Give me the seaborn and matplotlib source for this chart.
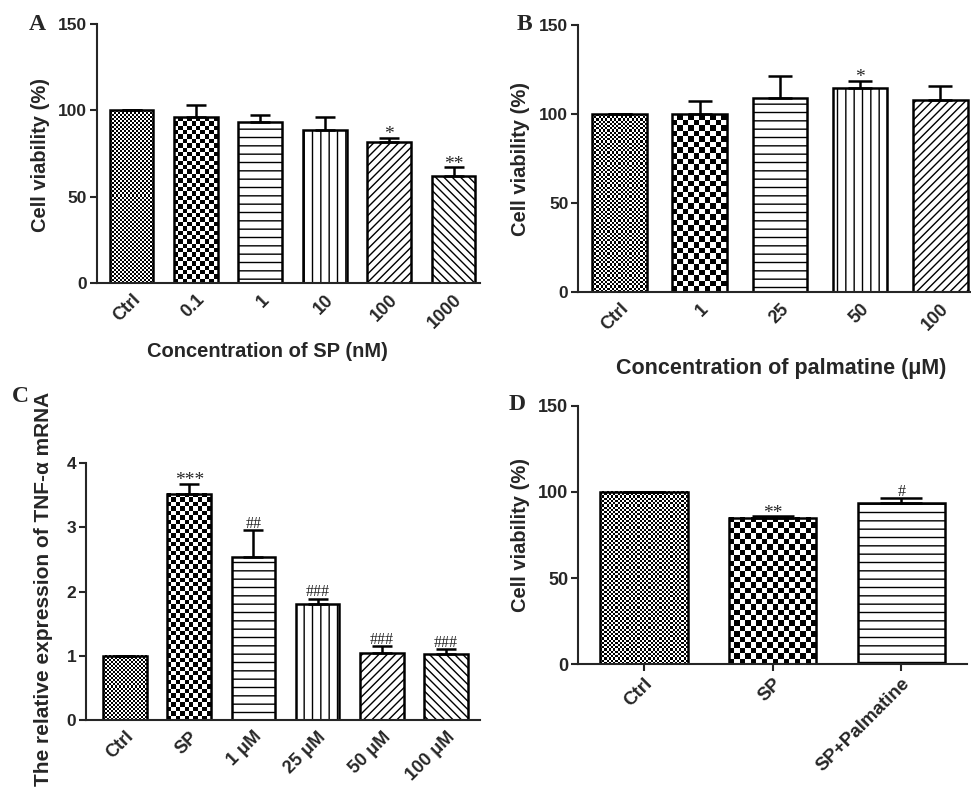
import numpy as np
import seaborn as sns
import matplotlib.pyplot as plt

# Panel A - SP concentration
a_labels = ["Ctrl", "0.1", "1", "10", "100", "1000"]
a_mean = [100, 95.9, 93.2, 88.6, 81.4, 61.8]
a_err = [0, 7.0, 3.9, 7.5, 2.7, 5.3]
a_sig = ["", "", "", "", "*", "**"]

# Panel B - palmatine concentration
b_labels = ["Ctrl", "1", "25", "50", "100"]
b_mean = [100, 99.9, 109.0, 114.8, 107.9]
b_err = [0, 7.4, 12.2, 3.8, 7.7]
b_sig = ["", "", "", "*", ""]

# Panel C - TNF-alpha mRNA
c_labels = ["Ctrl", "SP", "1 \u03bcM", "25 \u03bcM", "50 \u03bcM", "100 \u03bcM"]
c_mean = [1.0, 3.52, 2.53, 1.80, 1.04, 1.03]
c_err = [0, 0.16, 0.43, 0.09, 0.11, 0.07]
c_sig = ["", "***", "##", "###", "###", "###"]

# Panel D - SP + palmatine
d_labels = ["Ctrl", "SP", "SP+Palmatine"]
d_mean = [100, 84.9, 93.6]
d_err = [0, 1.0, 2.9]
d_sig = ["", "**", "#"]

FILLS = [("fine", None), ("coarse", None), (None, "--"), (None, "||"),
         (None, "////"), (None, "\\\\\\\\")]

sns.set_style("ticks")
plt.rcParams["font.family"] = ["Liberation Sans", "DejaVu Sans"]
plt.rcParams["font.weight"] = "bold"
plt.rcParams["axes.labelweight"] = "bold"
plt.rcParams["hatch.linewidth"] = 1.0
plt.rcParams["hatch.color"] = "black"

fig = plt.figure(figsize=(9.71, 7.92), dpi=100)


def add_checker(ax, patch, cell):
    # checkerboard fill covering exactly the bar
    trans = ax.transData
    x0, y0 = patch.get_x(), patch.get_y()
    w, h = patch.get_width(), patch.get_height()
    px0, py0 = trans.transform((x0, y0))
    px1, py1 = trans.transform((x0 + w, y0 + h))
    ncol = max(1, int(round((px1 - px0) / cell)))
    nrow = max(1, int(round((py1 - py0) / cell)))
    arr = np.add.outer(np.arange(nrow), np.arange(ncol)) % 2
    ax.imshow(arr, cmap="gray", vmin=0, vmax=1,
              extent=[x0, x0 + w, y0, y0 + h], origin="lower",
              interpolation="nearest", aspect="auto", zorder=0.5)


def panel(rect, labels, mean, err, sig, ylim, yticks, xlim, ylabel,
          ylab_xy, fine=2.0, coarse=4.4, capsize=7, tsize=12.5,
          xticks=False):
    ax = fig.add_axes(rect)
    sns.barplot(x=labels, y=mean, order=labels, color="white",
                edgecolor="black", linewidth=1.8, width=0.68,
                errorbar=None, ax=ax)
    ax.set_xlim(*xlim)
    ax.set_ylim(*ylim)
    for i, p in enumerate(ax.patches):
        kind, hatch = FILLS[i]
        p.set_zorder(2)
        if kind is not None:
            p.set_facecolor("none")
        if hatch:
            p.set_hatch(hatch)
        if kind == "fine":
            add_checker(ax, p, fine)
        elif kind == "coarse":
            add_checker(ax, p, coarse)
    ax.set_xlim(*xlim)
    ax.set_ylim(*ylim)
    x = np.arange(len(labels))
    ax.errorbar(x, mean, yerr=[np.zeros(len(err)), err], fmt="none",
                ecolor="black", elinewidth=1.8, capsize=capsize,
                capthick=1.8, zorder=3)
    for i, s in enumerate(sig):
        if s:
            star = s.startswith("*")
            ax.annotate(s, (i, mean[i] + err[i]),
                        xytext=(0, -1 if star else 1.5),
                        textcoords="offset points", ha="center",
                        va="baseline", fontsize=14 if star else 11.5,
                        fontweight="normal", family="Liberation Serif")
    sns.despine(ax=ax)
    ax.spines["left"].set_linewidth(1.5)
    ax.spines["bottom"].set_linewidth(1.5)
    ax.set_yticks(yticks)
    ax.tick_params(axis="y", length=5, width=1.5, labelsize=tsize, pad=2)
    ax.tick_params(axis="x", length=5 if xticks else 0, width=1.5,
                   labelsize=tsize + 0.5, pad=3 if xticks else 6)
    plt.setp(ax.get_yticklabels(), fontweight="bold")
    plt.setp(ax.get_xticklabels(), rotation=45, ha="right",
             rotation_mode="anchor", fontweight="bold")
    ax.set_ylabel(ylabel, fontsize=14.5, fontweight="bold")
    ax.yaxis.set_label_coords(*ylab_xy)
    return ax


ax_a = panel([0.0999, 0.6427, 0.3944, 0.327], a_labels, a_mean, a_err, a_sig,
             (0, 150), [0, 50, 100, 150], (-0.536, 5.41),
             "Cell viability (%)", (-0.123, 0.494))
ax_a.set_xlabel("Concentration of SP (nM)", fontsize=14.5, fontweight="bold")
ax_a.xaxis.set_label_coords(0.444, -0.228)

ax_b = panel([0.5953, 0.6313, 0.4037, 0.3371], b_labels, b_mean, b_err, b_sig,
             (0, 150), [0, 50, 100, 150], (-0.517, 4.37),
             "Cell viability (%)", (-0.122, 0.50), fine=2.2, coarse=5.5,
             capsize=8.5)
ax_b.set_xlabel("Concentration of palmatine (\u03bcM)", fontsize=15.5,
                fontweight="bold")
ax_b.xaxis.set_label_coords(0.518, -0.247)

ax_c = panel([0.0886, 0.0909, 0.4058, 0.3245], c_labels, c_mean, c_err, c_sig,
             (0, 4), [0, 1, 2, 3, 4], (-0.607, 5.53),
             "The relative expression of TNF-\u03b1 mRNA", (-0.084, 0.51))
ax_c.yaxis.label.set_fontsize(15)

ax_d = panel([0.5953, 0.1616, 0.4006, 0.3258], d_labels, d_mean, d_err, d_sig,
             (0, 150), [0, 50, 100, 150], (-0.51, 2.51),
             "Cell viability (%)", (-0.123, 0.50), fine=2.2, coarse=5.5,
             capsize=15, tsize=13, xticks=True)

for letter, (px, py) in {"A": (37, 24), "B": (524, 25),
                         "C": (20, 396), "D": (517, 405)}.items():
    fig.text(px / 971, 1 - py / 792, letter, family="Liberation Serif",
             fontweight="bold", fontsize=17, ha="center", va="center")

fig.savefig("out.png", dpi=100)
